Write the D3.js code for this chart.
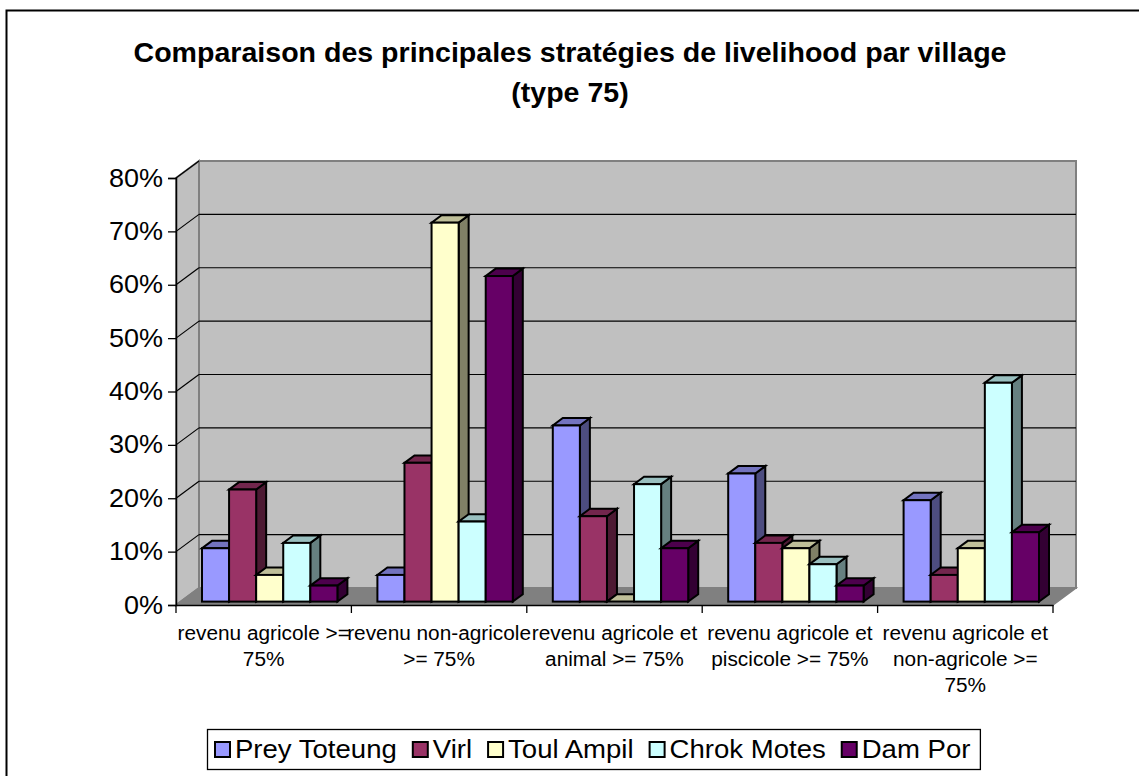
<!DOCTYPE html>
<html>
<head>
<meta charset="utf-8">
<script src="https://cdn.jsdelivr.net/npm/d3@7"></script>
<style>
  html, body { margin: 0; padding: 0; background: #fff; }
  svg { display: block; font-family: Arial, "Liberation Sans", sans-serif; }
</style>
</head>
<body>
<svg id="chart" width="1139" height="776"></svg>
<script>
// Category labels (line breaks mark where each label wraps)
const categories = [
  "revenu agricole >=\n75%",
  "revenu non-agricole\n>= 75%",
  "revenu agricole et\nanimal >= 75%",
  "revenu agricole et\npiscicole >= 75%",
  "revenu agricole et\nnon-agricole >=\n75%"
];
const series = ["Prey Toteung", "Virl", "Toul Ampil", "Chrok Motes", "Dam Por"];

// Share of households per village, one value per category
const preyToteung = [0.10, 0.05, 0.33, 0.24, 0.19];
const virl        = [0.21, 0.26, 0.16, 0.11, 0.05];
const toulAmpil   = [0.05, 0.71, 0.00, 0.10, 0.10];
const chrokMotes  = [0.11, 0.15, 0.22, 0.07, 0.41];
const damPor      = [0.03, 0.61, 0.10, 0.03, 0.13];
const values = [preyToteung, virl, toulAmpil, chrokMotes, damPor];

const yTicks = [0, 0.1, 0.2, 0.3, 0.4, 0.5, 0.6, 0.7, 0.8];
const title = ["Comparaison des principales stratégies de livelihood par village", "(type 75)"];

// face colours: front, top, side
const palette = [
  { front: "#9999FF", top: "#7373BF", side: "#4D4D80" },
  { front: "#993366", top: "#73264D", side: "#4D1A33" },
  { front: "#FFFFCC", top: "#BFBF99", side: "#808066" },
  { front: "#CCFFFF", top: "#99BFBF", side: "#668080" },
  { front: "#660066", top: "#4D004D", side: "#330033" }
];

const svg = d3.select("#chart");

// widen a text run slightly (the chart's typeface runs wider than Arial);
// returns the resulting width
function stretch(sel, factor) {
  let total = 0;
  sel.each(function () {
    const w = this.getComputedTextLength() * factor;
    d3.select(this).attr("textLength", w).attr("lengthAdjust", "spacingAndGlyphs");
    total = w;
  });
  return total;
}

// outer frame
svg.append("rect")
  .attr("x", 6.5).attr("y", 10.5)
  .attr("width", 1200).attr("height", 800)
  .attr("fill", "#fff").attr("stroke", "#000").attr("stroke-width", 2);

// title
title.forEach((t, i) => {
  const tt = svg.append("text")
    .attr("x", 570).attr("y", 62 + i * 40)
    .attr("text-anchor", "middle")
    .attr("font-size", 28).attr("font-weight", "bold").attr("fill", "#000")
    .text(t);
  stretch(tt, 1.02);
});

// plot geometry
const left = 176, right = 1053;
const y = d3.scaleLinear().domain([0, 0.8]).range([605, 178]);
const depth = { dx: 23, dy: -17 };          // depth of the whole floor / walls
const x0 = d3.scaleBand().domain(d3.range(categories.length)).range([left, right]);
const x1 = d3.scaleBand().domain(d3.range(series.length)).range([20, x0.bandwidth() - 20]);
const barShift = { dx: 6, dy: -3.4 };        // where the bar fronts sit in depth
const barDepth = { dx: 10, dy: -7.4 };       // thickness of each bar

const pts = a => a.map(p => p.join(",")).join(" ");
const y0 = y(0), yTop = y(0.8);

// side wall
svg.append("polygon")
  .attr("points", pts([[left, y0], [left + depth.dx, y0 + depth.dy], [left + depth.dx, yTop + depth.dy], [left, yTop]]))
  .attr("fill", "#C0C0C0").attr("stroke", "#808080").attr("stroke-width", 2);
// back wall
svg.append("polygon")
  .attr("points", pts([[left + depth.dx, y0 + depth.dy], [right + depth.dx, y0 + depth.dy], [right + depth.dx, yTop + depth.dy], [left + depth.dx, yTop + depth.dy]]))
  .attr("fill", "#C0C0C0").attr("stroke", "#808080").attr("stroke-width", 2);
// floor
svg.append("polygon")
  .attr("points", pts([[left, y0], [right, y0], [right + depth.dx, y0 + depth.dy], [left + depth.dx, y0 + depth.dy]]))
  .attr("fill", "#808080").attr("stroke", "#808080").attr("stroke-width", 1.5);

// gridlines on back and side walls
const grid = svg.append("g").attr("stroke", "#000").attr("stroke-width", 1.2).attr("fill", "none");
yTicks.filter(t => t > 0 && t < 0.8).forEach(t => {
  const yy = y(t);
  grid.append("line")
    .attr("x1", left + depth.dx).attr("x2", right + depth.dx)
    .attr("y1", yy + depth.dy).attr("y2", yy + depth.dy);
});
yTicks.filter(t => t > 0).forEach(t => {
  const yy = y(t);
  grid.append("line")
    .attr("x1", left).attr("y1", yy)
    .attr("x2", left + depth.dx).attr("y2", yy + depth.dy);
});

// value axis
const yAxis = d3.axisLeft(y).tickValues(yTicks).tickFormat(d3.format(".0%")).tickSize(8).tickPadding(5);
const yg = svg.append("g").attr("transform", `translate(${left},0)`).call(yAxis);
yg.select(".domain").attr("stroke", "#000").attr("stroke-width", 1.5);
yg.selectAll(".tick line").attr("stroke", "#000").attr("stroke-width", 1.3);
yg.selectAll(".tick text").attr("font-size", 25).attr("fill", "#000")
  .attr("font-family", "Arial, 'Liberation Sans', sans-serif");
stretch(yg.selectAll(".tick text"), 1.08);

// category axis
const xAxis = d3.axisBottom(x0).tickValues([]).tickSize(0);
const xg = svg.append("g").attr("transform", `translate(0,${y0})`).call(xAxis);
xg.select(".domain").attr("stroke", "#000").attr("stroke-width", 1.5);
d3.range(categories.length + 1).forEach(i => {
  const xx = left + i * x0.bandwidth();
  xg.append("line").attr("x1", xx).attr("x2", xx).attr("y1", 0).attr("y2", 8)
    .attr("stroke", "#000").attr("stroke-width", 1.3);
});
categories.forEach((c, i) => {
  c.split("\n").forEach((line, k) => {
    const t = xg.append("text")
      .attr("x", x0(i) + x0.bandwidth() / 2).attr("y", 35 + k * 26)
      .attr("text-anchor", "middle").attr("font-size", 20).attr("fill", "#000")
      .text(line);
    stretch(t, 1.04);
  });
});

// bars, drawn left to right so each front covers its neighbour's side
const bars = svg.append("g").attr("stroke", "#000").attr("stroke-width", 2).attr("stroke-linejoin", "miter");
categories.forEach((c, i) => {
  series.forEach((s, j) => {
    const v = values[j][i];
    const xa = x0(i) + x1(j) + barShift.dx;
    const xb = xa + x1.bandwidth();
    const yb = y(0) + barShift.dy;
    const yt = y(v) + barShift.dy;
    const g = bars.append("g");
    if (v > 0) {
      g.append("polygon")
        .attr("points", pts([[xb, yt], [xb + barDepth.dx, yt + barDepth.dy], [xb + barDepth.dx, yb + barDepth.dy], [xb, yb]]))
        .attr("fill", palette[j].side);
    }
    g.append("polygon")
      .attr("points", pts([[xa, yt], [xb, yt], [xb + barDepth.dx, yt + barDepth.dy], [xa + barDepth.dx, yt + barDepth.dy]]))
      .attr("fill", palette[j].top);
    g.append("rect")
      .attr("x", xa).attr("y", yt).attr("width", xb - xa).attr("height", yb - yt)
      .attr("fill", palette[j].front);
  });
});

// legend
const legend = svg.append("g");
const legendBox = legend.append("rect")
  .attr("y", 729.5).attr("height", 40)
  .attr("fill", "#fff").attr("stroke", "#000").attr("stroke-width", 1.3);
const itemGap = 16;
let lx = 215;
series.forEach((s, j) => {
  legend.append("rect")
    .attr("x", lx).attr("y", 742).attr("width", 15).attr("height", 15)
    .attr("fill", palette[j].front).attr("stroke", "#000").attr("stroke-width", 2);
  const t = legend.append("text")
    .attr("x", lx + 20).attr("y", 758)
    .attr("font-size", 25.5).attr("fill", "#000").text(s);
  const w = stretch(t, 1.08);
  lx += 20 + w + itemGap;
});
legendBox.attr("x", 207.5).attr("width", lx - itemGap + 10 - 207.5);
</script>
</body>
</html>
